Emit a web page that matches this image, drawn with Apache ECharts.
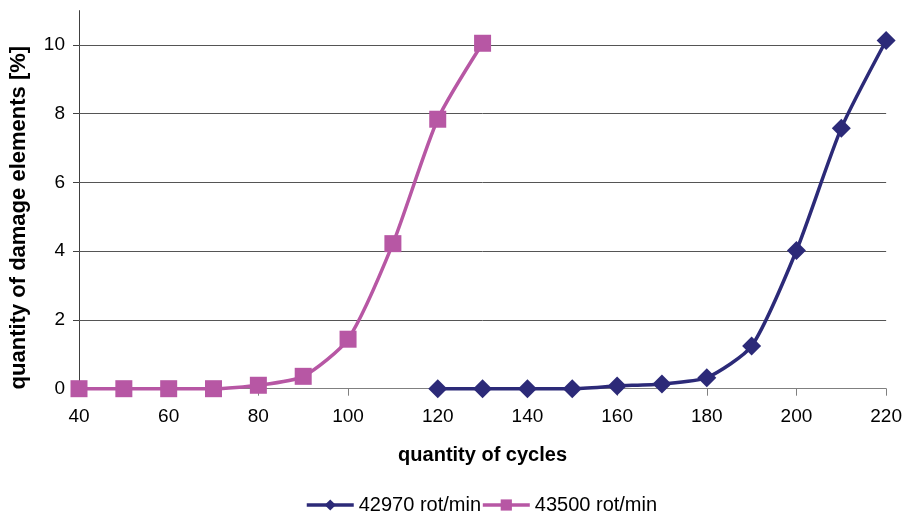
<!DOCTYPE html>
<html>
<head>
<meta charset="utf-8">
<script src="https://cdn.jsdelivr.net/npm/echarts@6/dist/echarts.min.js"></script>
<style>
  html, body { margin: 0; padding: 0; background: #fff; }
  #chart { width: 905px; height: 515px; }
</style>
</head>
<body>
<div id="chart"></div>
<script>
// Damage growth versus number of cycles at two rotation speeds
const cyclesA = [120, 130, 140, 150, 160, 170, 180, 190, 200, 210, 220];
const damageA = [0, 0, 0, 0, 0.08, 0.14, 0.32, 1.24, 4.02, 7.58, 10.13];
const cyclesB = [40, 50, 60, 70, 80, 90, 100, 110, 120, 130];
const damageB = [0, 0, 0, 0, 0.1, 0.36, 1.44, 4.22, 7.84, 10.05];
const seriesNames = ['42970 rot/min', '43500 rot/min'];
const yTicks = [0, 2, 4, 6, 8, 10];
const gridValues = [2, 4, 6, 8, 10];

const font = 'Liberation Sans, Arial, sans-serif';
const navy = '#2C2A78';
const pink = '#B757A4';

const chart = echarts.init(document.getElementById('chart'));
chart.setOption({
  animation: false,
  grid: { left: 78, right: 17, top: 10.6, bottom: 126.3, containLabel: false },
  legend: {
    left: 300,
    top: 490,
    padding: 5,
    itemWidth: 47,
    itemHeight: 14,
    itemGap: 0,
    lineStyle: { width: 3.5 },
    textStyle: { fontFamily: font, fontSize: 20, color: '#000' },
    data: seriesNames
  },
  xAxis: {
    type: 'value',
    min: 40, max: 220, interval: 20,
    name: 'quantity of cycles',
    nameLocation: 'middle',
    nameGap: 57,
    nameTextStyle: { fontFamily: font, fontSize: 20, fontWeight: 'bold', color: '#000' },
    axisLine: { show: true, onZero: false, lineStyle: { color: '#808080', width: 1 } },
    axisTick: { show: true, length: 7, lineStyle: { color: '#808080' } },
    axisLabel: { fontFamily: font, fontSize: 19, color: '#000', margin: 19 },
    splitLine: { show: false }
  },
  yAxis: {
    type: 'value',
    min: 0, max: 11, interval: 2,
    name: 'quantity of damage elements [%]',
    nameLocation: 'middle',
    nameGap: 49,
    nameTextStyle: {
      fontFamily: font, fontSize: 22, fontWeight: 'bold', color: '#000',
      padding: [0, 36, 0, 0]
    },
    axisLine: { show: true, lineStyle: { color: '#404040', width: 1 } },
    axisTick: { show: true, length: 6, lineStyle: { color: '#404040' }, customValues: yTicks },
    axisLabel: {
      fontFamily: font, fontSize: 19, color: '#000', margin: 14,
      customValues: yTicks
    },
    splitLine: { show: false }
  },
  series: [
    {
      name: seriesNames[0],
      type: 'line',
      data: cyclesA.map((c, i) => [c, damageA[i]]),
      smooth: 0.22,
      symbol: 'diamond',
      symbolSize: 19,
      clip: false,
      z: 3,
      lineStyle: { color: navy, width: 3.5 },
      itemStyle: { color: navy },
      markLine: {
        silent: true,
        symbol: 'none',
        label: { show: false },
        lineStyle: { color: '#555', width: 1, type: 'solid' },
        z: 1,
        data: gridValues.map(v => ({ yAxis: v }))
      }
    },
    {
      name: seriesNames[1],
      type: 'line',
      data: cyclesB.map((c, i) => [c, damageB[i]]),
      smooth: 0.22,
      symbol: 'rect',
      symbolSize: 17,
      clip: false,
      z: 2,
      lineStyle: { color: pink, width: 3.5 },
      itemStyle: { color: pink }
    }
  ]
});
</script>
</body>
</html>
